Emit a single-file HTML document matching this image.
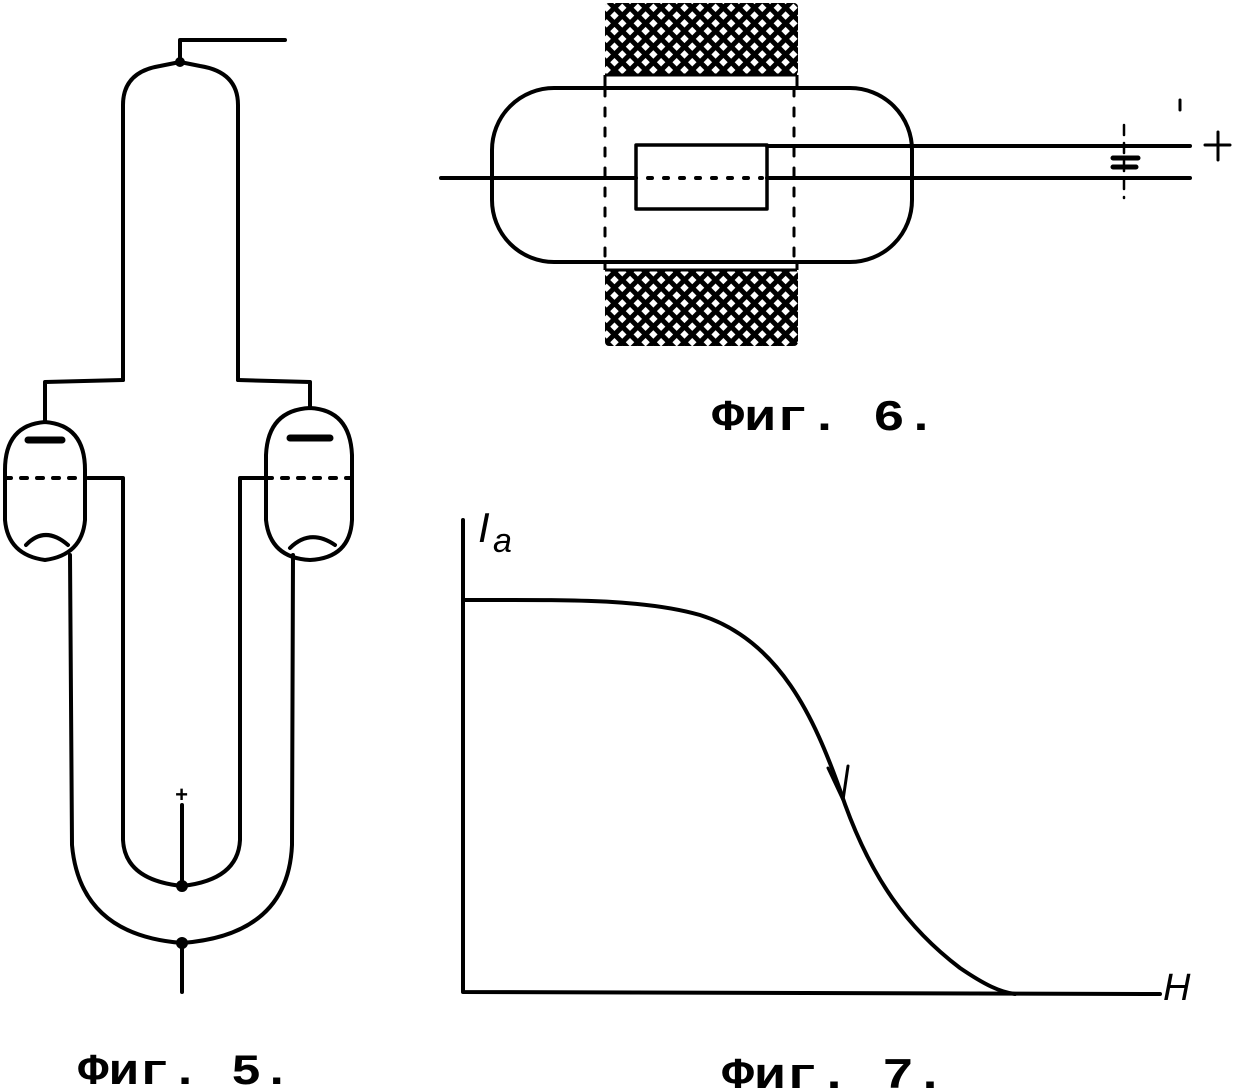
<!DOCTYPE html>
<html><head><meta charset="utf-8"><style>
html,body{margin:0;padding:0;background:#fff;}
svg{display:block;}
text{font-family:"Liberation Mono","DejaVu Sans Mono",monospace;font-weight:bold;fill:#000;}
</style></head><body>
<svg width="1238" height="1092" viewBox="0 0 1238 1092" xmlns="http://www.w3.org/2000/svg">
<defs>
<pattern id="h" width="11" height="11" patternUnits="userSpaceOnUse" patternTransform="rotate(45)">
<rect width="11" height="11" fill="#000"/>
<rect x="2.5" y="2.5" width="6" height="6" fill="#fff"/>
</pattern>
</defs>
<g fill="none" stroke="#000" stroke-width="4" stroke-linecap="round" stroke-linejoin="round">
<path d="M180 62 L180 40 L285 40"/>
<path d="M123 380 L123 105 Q123 72 160 66 L180 62 L200 66 Q238 72 238 105 L238 380"/>
<path d="M123 380 L45 382 L45 422"/>
<path d="M238 380 L310 382 L310 408"/>
<path d="M45 422 Q5 425 5 470 L5 520 Q8 555 45 560 Q82 555 85 520 L85 470 Q85 425 45 422 Z"/>
<path d="M28 440 L62 440" stroke-width="7"/>
<path d="M5 478 L85 478" stroke-dasharray="6 10"/>
<path d="M26 545 Q45 525 68 545"/>
<path d="M310 408 Q268 410 266 455 L266 520 Q270 558 310 560 Q350 558 352 520 L352 455 Q350 410 310 408 Z"/>
<path d="M290 438 L330 438" stroke-width="7"/>
<path d="M266 478 L352 478" stroke-dasharray="6 10"/>
<path d="M290 548 Q310 528 335 545"/>
<path d="M88 478 L123 478 L123 840 Q125 880 182 886 Q238 880 240 840 L240 478 L268 478"/>
<path d="M70 555 L72 845 Q80 935 182 943 Q288 935 292 845 L293 555"/>
<path d="M182 886 L182 805"/>
<path d="M182 943 L182 992"/>
<rect x="492" y="88" width="420" height="174" rx="62"/>
<rect x="636" y="145" width="131" height="64" stroke-width="3.5"/>
<path d="M441 178 L636 178 M767 178 L1190 178"/>
<path d="M767 146 L1190 146"/>
<path d="M648 178 L762 178" stroke-dasharray="4 12"/>
<path d="M605 88 L605 262 M794 88 L794 262" stroke-width="3" stroke-dasharray="8 12"/>
<path d="M1124 125 L1124 198" stroke-width="2.5" stroke-dasharray="10 8"/>
<path d="M1113 158 L1138 158 M1113 167 L1136 167" stroke-width="5"/>
<path d="M1205 145 L1230 145 M1218 132 L1218 160" stroke-width="3"/>
<path d="M1180 100 L1180 110" stroke-width="3"/>
<path d="M463 520 L463 992 L1160 994"/>
<path d="M463 600 C560 600 640 598 700 615 C780 640 815 720 840 790 C870 880 910 930 960 968 C985 985 1000 992 1015 994" stroke-width="4"/>
<path d="M828 768 L843 800 L848 766" stroke-width="3"/>
</g>
<rect x="605" y="3" width="193" height="72" rx="4" fill="url(#h)"/>
<rect x="605" y="270" width="193" height="76" rx="4" fill="url(#h)"/>
<path d="M605 75 L605 88 M797 75 L797 88 M605 262 L605 270 M797 262 L797 270" stroke="#000" stroke-width="3"/>
<line x1="605" y1="75" x2="797" y2="75" stroke="#000" stroke-width="3"/>
<line x1="605" y1="270" x2="797" y2="270" stroke="#000" stroke-width="3"/>
<circle cx="180" cy="62" r="5" fill="#000"/>
<circle cx="182" cy="886" r="6" fill="#000"/>
<circle cx="182" cy="943" r="6" fill="#000"/>
<text x="175" y="802" font-size="22">+</text>
<text x="478" y="542" font-size="42" font-style="italic" style="font-weight:normal;font-family:'Liberation Sans'">I</text>
<text x="493" y="552" font-size="34" font-style="italic" style="font-weight:normal;font-family:'Liberation Sans'">a</text>
<text x="1163" y="1000" font-size="38" font-style="italic" style="font-weight:normal;font-family:'Liberation Sans'">H</text>
<text x="712" y="430" font-size="44" textLength="225" lengthAdjust="spacingAndGlyphs">Фиг. 6.</text>
<text x="78" y="1084" font-size="44" textLength="214" lengthAdjust="spacingAndGlyphs">Фиг. 5.</text>
<text x="722" y="1088" font-size="44" textLength="224" lengthAdjust="spacingAndGlyphs">Фиг. 7.</text>
</svg>
</body></html>
